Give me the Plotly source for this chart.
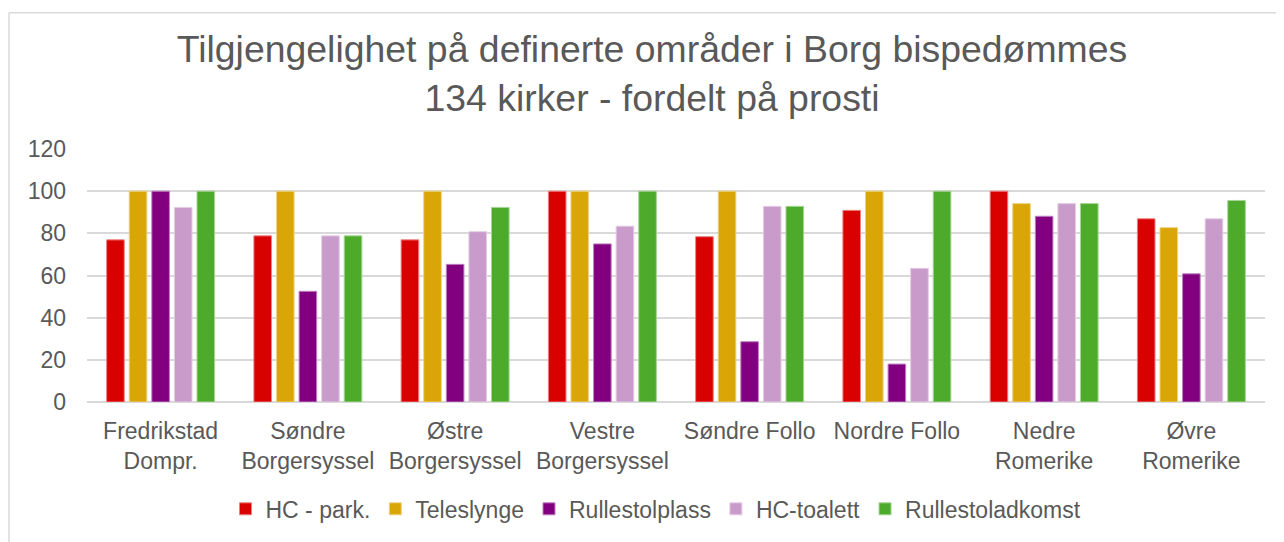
import plotly.graph_objects as go

categories = ["Fredrikstad<br>Dompr.", "Søndre<br>Borgersyssel", "Østre<br>Borgersyssel",
              "Vestre<br>Borgersyssel", "Søndre Follo", "Nordre Follo",
              "Nedre<br>Romerike", "Øvre<br>Romerike"]

series_names = ["HC - park.", "Teleslynge", "Rullestolplass", "HC-toalett", "Rullestoladkomst"]

hc_park = [76.9, 78.8, 76.9, 100, 78.4, 90.9, 100, 86.9]
teleslynge = [100, 100, 100, 100, 100, 100, 94.1, 82.7]
rullestolplass = [100, 52.5, 65.3, 75.0, 28.6, 18.0, 88.1, 60.8]
hc_toalett = [92.3, 78.8, 80.8, 83.4, 92.8, 63.4, 94.1, 86.9]
rullestoladkomst = [100, 78.8, 92.3, 100, 92.8, 100, 94.1, 95.6]

series_values = [hc_park, teleslynge, rullestolplass, hc_toalett, rullestoladkomst]
colors = ["#D90000", "#DAA507", "#820080", "#C99BCA", "#4DAA2A"]
edge_colors = ["#EE8080", "#EDD283", "#C080C0", "#E4CDE5", "#A6D495"]

FONT = "Arial, Liberation Sans, sans-serif"
GRAY = "#595959"

fig = go.Figure()
for name, vals, c, ec in zip(series_names, series_values, colors, edge_colors):
    fig.add_trace(go.Bar(x=categories, y=vals, name=name,
                         marker=dict(color=c, line=dict(color=ec, width=1))))

# page has an 8px body margin; work in page pixels and convert
OFF = 8
PW, PH = 1284, 542
W, H = PW - OFF, PH - OFF
PL, PR, PT, PB = 87, 1265, 149, 407   # plot area in page px
L, T = PL - OFF, PT - OFF
R = W - (PR - OFF)
B = H - (PB - OFF)
pw, ph = PR - PL, PB - PT

def px(x):
    return (x - PL) / pw

def py(y):
    return (PB - y) / ph

fig.update_layout(
    width=W, height=H,
    margin=dict(l=L, r=R, t=T, b=B),
    paper_bgcolor="white", plot_bgcolor="white",
    barmode="group", bargap=0.233, bargroupgap=0.22,
    font=dict(family=FONT, color=GRAY, size=23),
    title=dict(text="Tilgjengelighet på definerte områder i Borg bispedømmes<br>134 kirker - fordelt på prosti",
               font=dict(family=FONT, size=37.4, color=GRAY),
               x=(652 - OFF) / W, xanchor="center", xref="container",
               y=1 - 54 / H, yanchor="middle", yref="container"),
    legend=dict(orientation="h", x=px(656), xanchor="center", y=py(516), yanchor="middle",
                font=dict(family=FONT, size=23, color=GRAY), itemwidth=30,
                traceorder="normal"),
    xaxis=dict(showgrid=False, showline=False, ticks="", tickfont=dict(size=23, color=GRAY),
               ticklabelstandoff=13),
    yaxis=dict(range=[0, 120], dtick=20, showgrid=True, gridcolor="#D9D9D9", gridwidth=1.5,
               zeroline=True, zerolinecolor="#D9D9D9", zerolinewidth=1.5,
               showline=False, ticks="", tickfont=dict(size=23, color=GRAY),
               ticklabelstandoff=20),
    shapes=[
        dict(type="line", xref="paper", yref="paper", x0=px(9), x1=px(1300), y0=py(10), y1=py(10),
             line=dict(color="#D9D9D9", width=1.5)),
        dict(type="line", xref="paper", yref="paper", x0=px(9), x1=px(9), y0=py(10), y1=py(560),
             line=dict(color="#D9D9D9", width=1.5)),
    ],
)

fig.write_html("out.html")
